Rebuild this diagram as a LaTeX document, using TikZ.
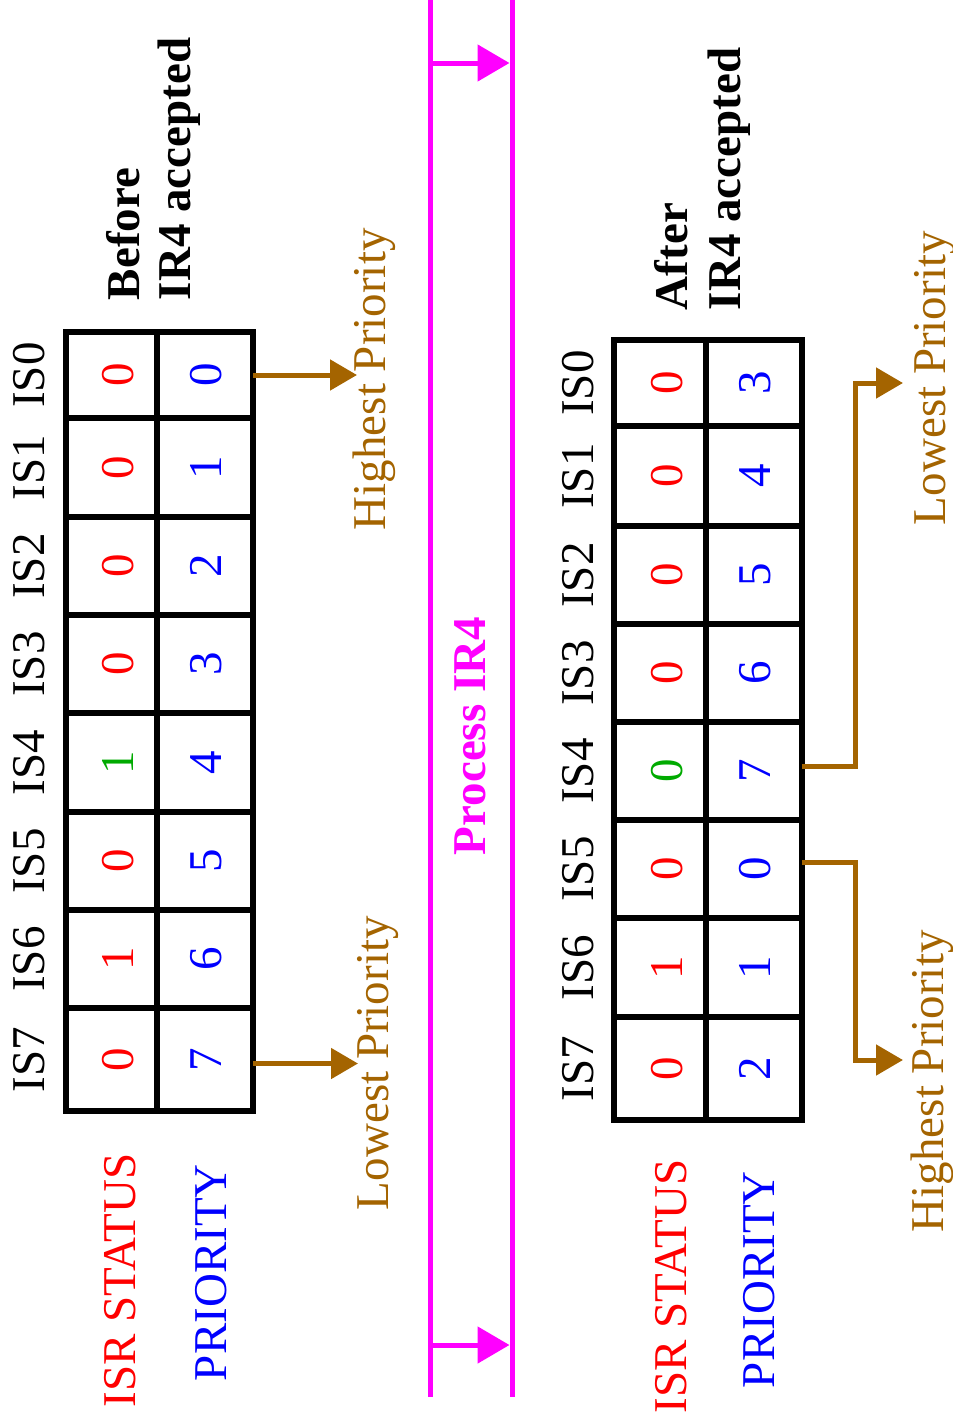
\documentclass[tikz,border=0pt]{standalone}
\usepackage{fontspec}
\setmainfont{Liberation Serif}
\usetikzlibrary{arrows.meta}
\definecolor{isrred}{RGB}{255,0,0}
\definecolor{prioblue}{RGB}{0,0,255}
\definecolor{activegreen}{RGB}{0,170,0}
\definecolor{prbrown}{RGB}{164,100,0}
\definecolor{procmag}{RGB}{255,0,255}
\begin{document}
\begin{tikzpicture}[x=1pt,y=-1pt,
  cell/.style={draw=black,line width=5.5pt,inner sep=0pt,outer sep=0pt},
  txt/.style={font=\fontsize{47}{53}\selectfont,inner sep=0pt,outer sep=0pt,rotate=90},
  btxt/.style={txt,font=\fontsize{47}{53}\selectfont\bfseries},
  brownarrow/.style={draw=prbrown,line width=5pt,-{Triangle[length=27pt,width=30pt]}},
  magline/.style={draw=procmag,line width=5pt},
  magarrow/.style={draw=procmag,line width=5pt,-{Triangle[length=32pt,width=36pt]}}]
\useasboundingbox (0,0) rectangle (953,1427);

% ---- register before IR4 is accepted ----
\foreach \i/\a/\b in {0/332/418,1/418/517,2/517/615,3/615/713,4/713/812,5/812/910,6/910/1008,7/1008/1111}{
  \node[cell,minimum width=91pt,minimum height={(\b-\a)*1pt}] (bs\i) at (111.5,{(\a+\b)/2}) {};
  \node[cell,minimum width=96pt,minimum height={(\b-\a)*1pt}] (bp\i) at (205,{(\a+\b)/2}) {};
  \node[txt,anchor=base] (bl\i) at (44,{(\a+\b)/2}) {IS\i};
}
\foreach \i/\s/\c/\p in {0/0/isrred/0,1/0/isrred/1,2/0/isrred/2,3/0/isrred/3,4/1/activegreen/4,5/0/isrred/5,6/1/isrred/6,7/0/isrred/7}{
  \node[txt,anchor=base,text=\c] (bsv\i) at ([xshift=21.5pt]bs\i.center) {\s};
  \node[txt,anchor=base,text=prioblue] (bpv\i) at ([xshift=16pt]bp\i.center) {\p};
}

% ---- register after IR4 is accepted ----
\foreach \i/\a/\b in {0/340/426,1/426/526,2/526/624,3/624/722,4/722/820,5/820/918,6/918/1017,7/1017/1120}{
  \node[cell,minimum width=92pt,minimum height={(\b-\a)*1pt}] (as\i) at (660,{(\a+\b)/2}) {};
  \node[cell,minimum width=96pt,minimum height={(\b-\a)*1pt}] (ap\i) at (754,{(\a+\b)/2}) {};
  \node[txt,anchor=base] (al\i) at (593,{(\a+\b)/2}) {IS\i};
}
\foreach \i/\s/\c/\p in {0/0/isrred/3,1/0/isrred/4,2/0/isrred/5,3/0/isrred/6,4/0/activegreen/7,5/0/isrred/0,6/1/isrred/1,7/0/isrred/2}{
  \node[txt,anchor=base,text=\c] (asv\i) at ([xshift=22pt]as\i.center) {\s};
  \node[txt,anchor=base,text=prioblue] (apv\i) at ([xshift=16pt]ap\i.center) {\p};
}

% ---- captions ----
\node[btxt,anchor=base west] (bef1) at (139,300) {Before};
\node[btxt,anchor=base west] (bef2) at (190,300) {IR4 accepted};
\node[btxt,anchor=base west] (aft1) at (687,310) {After};
\node[btxt,anchor=base west] (aft2) at (740,310) {IR4 accepted};

\node[txt,anchor=base west,text=isrred] (isrL) at (135,1407) {ISR STATUS};
\node[txt,anchor=base west,text=prioblue] (priL) at (226,1381) {PRIORITY};
\node[txt,anchor=base west,text=isrred] (isrR) at (686,1413) {ISR STATUS};
\node[txt,anchor=base west,text=prioblue] (priR) at (774,1388) {PRIORITY};

\node[txt,anchor=base west,text=prbrown] (hiL) at (385,530) {Highest Priority};
\node[txt,anchor=base west,text=prbrown] (loL) at (388,1210) {Lowest Priority};
\node[txt,anchor=base west,text=prbrown] (loR) at (945,525) {Lowest Priority};
\node[txt,anchor=base west,text=prbrown] (hiR) at (943,1232) {Highest Priority};

% ---- priority pointers ----
\coordinate (tipA) at (357,375);
\coordinate (tipB) at (358,1064);
\coordinate (tipC) at (903,383);
\coordinate (tipD) at (903,1060);
\draw[brownarrow] (bp0.east) -- (bp0.east -| tipA);
\draw[brownarrow] ([yshift=-4pt]bp7.east) -- ([yshift=-4pt]bp7.east -| tipB);
\draw[brownarrow] ([yshift=5pt]ap4.east) -- ++(53,0) |- (tipC);
\draw[brownarrow] ([yshift=7pt]ap5.east) -- ++(53,0) |- (tipD);

% ---- IR4 service band ----
\coordinate (mL0) at (430,-5);
\coordinate (mL1) at (430,1397);
\coordinate (mR0) at (512,-5);
\coordinate (mR1) at (512,1397);
\draw[magline] (mL0) -- (mL1);
\draw[magline] (mR0) -- (mR1);
\coordinate (aT0) at (430,63);
\coordinate (aB0) at (430,1345);
\draw[magarrow] (aT0) -- (aT0 -| 509.5,0);
\draw[magarrow] (aB0) -- (aB0 -| 509.5,0);
\node[btxt,anchor=base west,text=procmag] (proc) at (485,855) {Process IR4};
\end{tikzpicture}
\end{document}
